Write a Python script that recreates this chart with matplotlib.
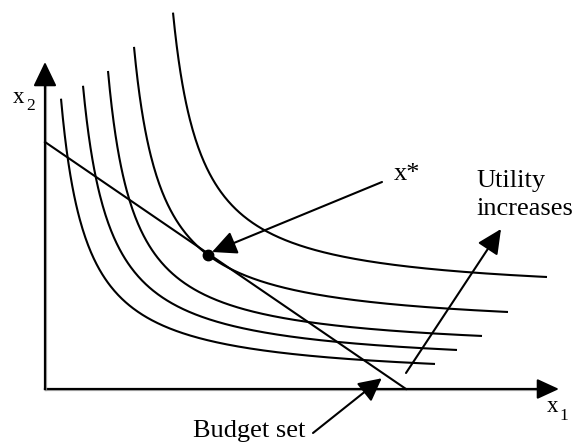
import numpy as np
import matplotlib
matplotlib.use("Agg")
import matplotlib.pyplot as plt
import matplotlib.patheffects as pe

# coordinates are pixel offsets from the origin of the diagram (x right, y up)

# indifference curves: (x1 - C) * (x2 - A) = U
CURVE_C = [-9.3, 11.2, 37.4, 61.9, 100.0]
CURVE_A = [7.1, 20.1, 34.9, 57.8, 92.2]
CURVE_U = [7165, 7588, 7248, 7705, 7957]
CURVE_X_START = [16, 38, 63, 89, 128]
CURVE_X_END = [390, 412, 437, 463, 502]

# budget line intercepts
BUDGET_X1 = 361
BUDGET_X2 = 247

# optimum
XSTAR = (163, 134)

FONT = "Liberation Serif"


def arrow(ax, start, tip, hl=15, hw=7.2):
    ax.annotate("", xy=tip, xytext=start,
                arrowprops=dict(arrowstyle="-|>,head_length={},head_width={}".format(hl, hw),
                                mutation_scale=1, lw=1.5, color="black",
                                shrinkA=0, shrinkB=0))


def main():
    fig = plt.figure(figsize=(5.73, 4.44), dpi=100)
    ax = fig.add_axes([0, 0, 1, 1])
    ax.set_xlim(-45, 528)
    ax.set_ylim(-55, 389)
    ax.axis("off")

    # axes with shadow
    shadow = [pe.SimpleLineShadow(offset=(1, -1), shadow_color="0.6", alpha=0.8), pe.Normal()]
    ax.plot([0, 500], [0, 0], color="black", lw=1.6, path_effects=shadow)
    ax.plot([0, 0], [0, 310], color="black", lw=1.6, path_effects=shadow)
    arrow(ax, (490, 0), (514, 0), hl=13.5, hw=6.2)
    arrow(ax, (0, 300), (0, 327))

    # indifference curves
    for c, a, u, x0, x1 in zip(CURVE_C, CURVE_A, CURVE_U, CURVE_X_START, CURVE_X_END):
        x = np.linspace(x0, x1, 400)
        y = a + u / (x - c)
        ax.plot(x, y, color="black", lw=1.5, solid_capstyle="butt")

    # budget line
    ax.plot([0, BUDGET_X1], [BUDGET_X2, 0], color="black", lw=1.5)
    ax.plot(XSTAR[0], XSTAR[1], "o", color="black", ms=7.5)

    # annotations
    arrow(ax, (337, 207), (167, 137))
    arrow(ax, (361, 16), (456, 160))
    arrow(ax, (268, -44), (336.7, 10.7), hl=14, hw=7.2)

    ax.text(349, 209, "x*", fontsize=19, family=FONT, va="baseline", ha="left")
    ax.text(431, 202, "Utility", fontsize=19, family=FONT, va="baseline", ha="left")
    ax.text(431, 174, "increases", fontsize=19, family=FONT, va="baseline", ha="left")
    ax.text(148, -48, "Budget set", fontsize=19, family=FONT, va="baseline", ha="left")

    ax.text(-32, 286, "x", fontsize=16.5, family=FONT, va="baseline", ha="left")
    ax.text(-19, 279, "2", fontsize=12.5, family=FONT, va="baseline", ha="left")
    ax.text(502, -23, "x", fontsize=16.5, family=FONT, va="baseline", ha="left")
    ax.text(514, -31, "1", fontsize=12.5, family=FONT, va="baseline", ha="left")

    fig.savefig("out.png", dpi=100)
    plt.close()


if __name__ == "__main__":
    main()
